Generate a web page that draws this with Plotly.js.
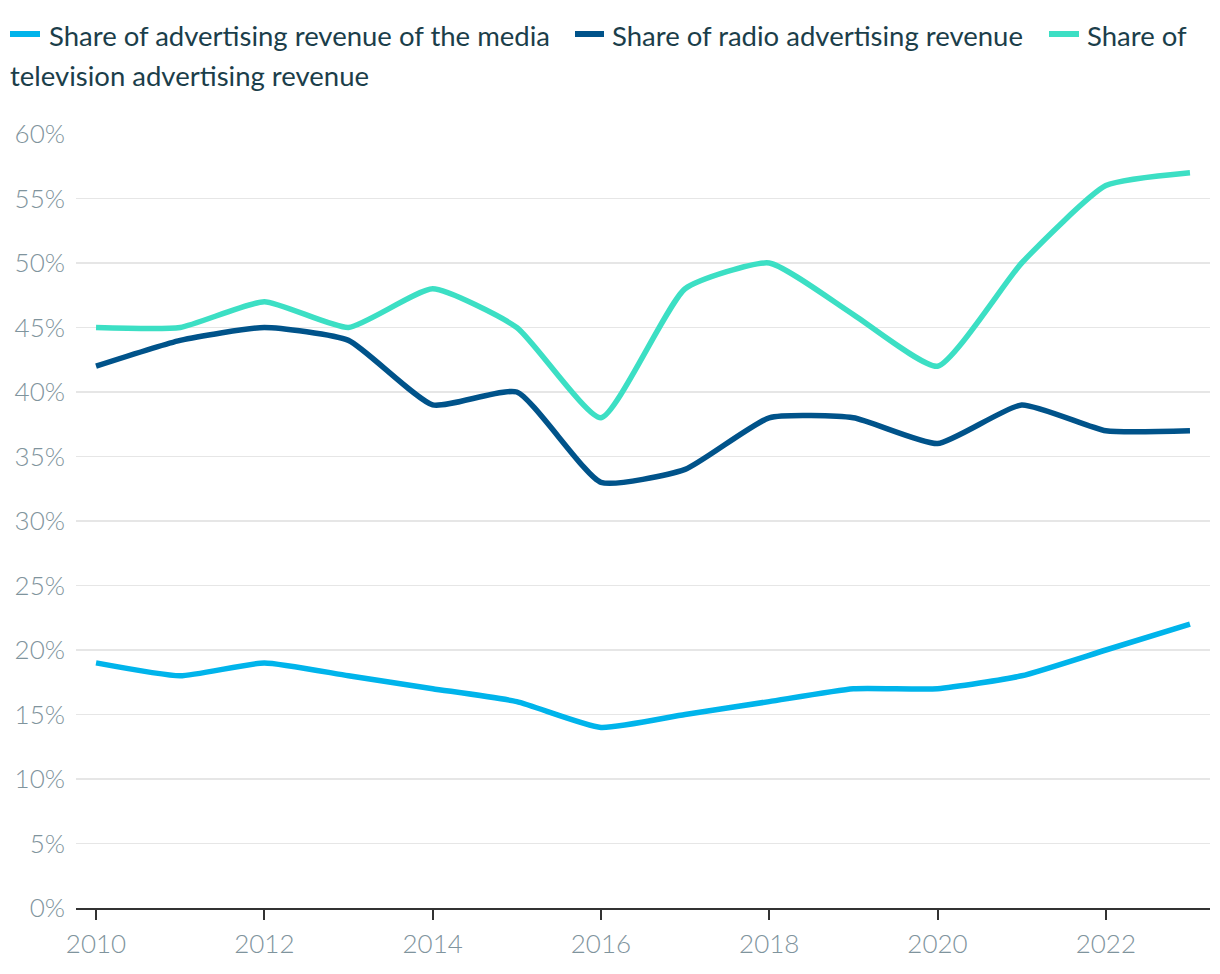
<!DOCTYPE html>
<html>
<head>
<meta charset="utf-8">
<script src="https://cdn.plot.ly/plotly-3.0.1.min.js"></script>
<style>
html,body{margin:0;padding:0;background:#fff;}
#chart{width:1220px;height:974px;}
</style>
</head>
<body>
<div id="chart"></div>
<script>
const years = [2010,2011,2012,2013,2014,2015,2016,2017,2018,2019,2020,2021,2022,2023];
const mediaShare = [19,18,19,18,17,16,14,15,16,17,17,18,20,22];
const radioShare = [42,44,45,44,39,40,33,34,38,38,36,39,37,37];
const tvShare    = [45,45,47,45,48,45,38,48,50,46,42,50,56,57];
const seriesNames = ["Share of advertising revenue of the media","Share of radio advertising revenue","Share of television advertising revenue"];
const yTickVals = [0,5,10,15,20,25,30,35,40,45,50,55,60];
const yTickText = yTickVals.map(v => v + "%");
const xTickVals = [2010,2012,2014,2016,2018,2020,2022];

const colors = ["#00B4EB","#00538A","#3CDFC4"];

const W = 1220, H = 974;
const M = {l:76, r:10, t:134, b:66};
const PW = W - M.l - M.r, PH = H - M.t - M.b;
const px2x = p => (p - M.l) / PW;
const py2y = p => (H - M.b - p) / PH;

function mk(y, i){
  return {x: years, y: y, type:'scatter', mode:'lines', name: seriesNames[i],
    line:{color: colors[i], width:5.5, shape:'spline', smoothing:0.5},
    showlegend:false, hoverinfo:'x+y'};
}
const data = [mk(mediaShare,0), mk(radioShare,1), mk(tvShare,2)];

const legFont = {family:'Lato, "Open Sans", sans-serif', size:27.5, color:'#1B3E4A'};
const legendItems = [
  {sx0:10, sx1:40, sy:34, tx:48, ty:35, text:"Share of advertising revenue of the media", c:0},
  {sx0:575, sx1:604, sy:34, tx:611, ty:35, text:"Share of radio advertising revenue", c:1},
  {sx0:1049, sx1:1079, sy:34, tx:1086, ty:35, text:"Share of", c:2}
];
const shapes = legendItems.map(it => ({type:'line', xref:'paper', yref:'paper',
  x0:px2x(it.sx0), x1:px2x(it.sx1), y0:py2y(it.sy), y1:py2y(it.sy),
  line:{color:colors[it.c], width:6}}));
const annotations = legendItems.map(it => ({xref:'paper', yref:'paper',
  x:px2x(it.tx), y:py2y(it.ty), xanchor:'left', yanchor:'middle', showarrow:false,
  text:it.text, font:legFont, borderpad:0}));
annotations.push({xref:'paper', yref:'paper', x:px2x(9), y:py2y(75), xanchor:'left', yanchor:'middle',
  showarrow:false, text:"television advertising revenue", font:legFont, borderpad:0});

const tickFont = {family:'Lato, "Open Sans", sans-serif', size:26, color:'#7F949D', weight:300};

const layout = {
  width:W, height:H,
  margin:{l:M.l, r:M.r, t:M.t, b:M.b, pad:0},
  paper_bgcolor:'#fff', plot_bgcolor:'#fff',
  showlegend:false,
  xaxis:{range:[2009.762, 2023.238], tickvals:xTickVals, ticktext:xTickVals.map(String),
    showgrid:false, zeroline:false, showline:true, linecolor:'#333', linewidth:2,
    ticks:'outside', ticklen:10, tickwidth:2, tickcolor:'#333',
    tickfont:tickFont, ticklabelstandoff:2},
  yaxis:{range:[0,60], tickvals:yTickVals, ticktext:yTickText,
    showgrid:true, gridcolor:'#E6E6E6', gridwidth:1.5, zeroline:false, showline:false,
    ticks:'', tickfont:tickFont, ticklabelstandoff:10},
  shapes:shapes, annotations:annotations
};
Plotly.newPlot('chart', data, layout, {displayModeBar:false, staticPlot:true});
</script>
</body>
</html>
